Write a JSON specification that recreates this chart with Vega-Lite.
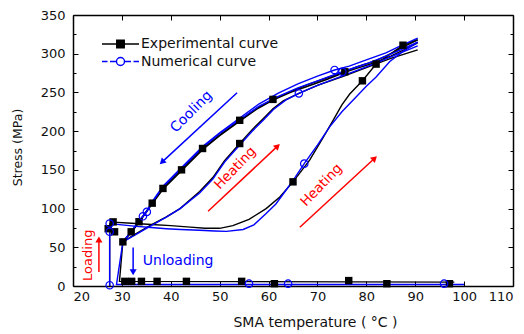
{
  "$schema": "https://vega.github.io/schema/vega-lite/v6.json",
  "width": 440,
  "height": 271,
  "autosize": {"type": "none"},
  "padding": {"left": 73, "top": 15, "right": 11, "bottom": 48},
  "background": "white",
  "config": {"view": {"stroke": null}, "font": "DejaVu Sans"},
  "datasets": {
    "lines": [
      {"curve": "Experimental curve", "branch": "e_load", "i": 0, "x": 27.5, "y": 0},
      {"curve": "Experimental curve", "branch": "e_load", "i": 1, "x": 27.5, "y": 74},
      {"curve": "Experimental curve", "branch": "e_load", "i": 2, "x": 28.2, "y": 82.5},
      {"curve": "Experimental curve", "branch": "e_heat1", "i": 0, "x": 28.2, "y": 82.5},
      {"curve": "Experimental curve", "branch": "e_heat1", "i": 1, "x": 32, "y": 81},
      {"curve": "Experimental curve", "branch": "e_heat1", "i": 2, "x": 36, "y": 79.5},
      {"curve": "Experimental curve", "branch": "e_heat1", "i": 3, "x": 40, "y": 78},
      {"curve": "Experimental curve", "branch": "e_heat1", "i": 4, "x": 44, "y": 76},
      {"curve": "Experimental curve", "branch": "e_heat1", "i": 5, "x": 47, "y": 74.5},
      {"curve": "Experimental curve", "branch": "e_heat1", "i": 6, "x": 50, "y": 74.5},
      {"curve": "Experimental curve", "branch": "e_heat1", "i": 7, "x": 52.7, "y": 78},
      {"curve": "Experimental curve", "branch": "e_heat1", "i": 8, "x": 56, "y": 86},
      {"curve": "Experimental curve", "branch": "e_heat1", "i": 9, "x": 59.5, "y": 100},
      {"curve": "Experimental curve", "branch": "e_heat1", "i": 10, "x": 62.3, "y": 115},
      {"curve": "Experimental curve", "branch": "e_heat1", "i": 11, "x": 65, "y": 134.5},
      {"curve": "Experimental curve", "branch": "e_heat1", "i": 12, "x": 68.4, "y": 162.5},
      {"curve": "Experimental curve", "branch": "e_heat1", "i": 13, "x": 71, "y": 190},
      {"curve": "Experimental curve", "branch": "e_heat1", "i": 14, "x": 73.2, "y": 214},
      {"curve": "Experimental curve", "branch": "e_heat1", "i": 15, "x": 75, "y": 234},
      {"curve": "Experimental curve", "branch": "e_heat1", "i": 16, "x": 76.6, "y": 248},
      {"curve": "Experimental curve", "branch": "e_heat1", "i": 17, "x": 79.2, "y": 265},
      {"curve": "Experimental curve", "branch": "e_heat1", "i": 18, "x": 82, "y": 286.6},
      {"curve": "Experimental curve", "branch": "e_heat1", "i": 19, "x": 85, "y": 300},
      {"curve": "Experimental curve", "branch": "e_heat1", "i": 20, "x": 87.5, "y": 311},
      {"curve": "Experimental curve", "branch": "e_heat1", "i": 21, "x": 90.5, "y": 318},
      {"curve": "Experimental curve", "branch": "e_cool1", "i": 0, "x": 90.5, "y": 318},
      {"curve": "Experimental curve", "branch": "e_cool1", "i": 1, "x": 88, "y": 310},
      {"curve": "Experimental curve", "branch": "e_cool1", "i": 2, "x": 85, "y": 300},
      {"curve": "Experimental curve", "branch": "e_cool1", "i": 3, "x": 82, "y": 291},
      {"curve": "Experimental curve", "branch": "e_cool1", "i": 4, "x": 78, "y": 283},
      {"curve": "Experimental curve", "branch": "e_cool1", "i": 5, "x": 75.6, "y": 276.7},
      {"curve": "Experimental curve", "branch": "e_cool1", "i": 6, "x": 72, "y": 269},
      {"curve": "Experimental curve", "branch": "e_cool1", "i": 7, "x": 68, "y": 260},
      {"curve": "Experimental curve", "branch": "e_cool1", "i": 8, "x": 64.5, "y": 251},
      {"curve": "Experimental curve", "branch": "e_cool1", "i": 9, "x": 60.9, "y": 241},
      {"curve": "Experimental curve", "branch": "e_cool1", "i": 10, "x": 57.5, "y": 229},
      {"curve": "Experimental curve", "branch": "e_cool1", "i": 11, "x": 54.1, "y": 214},
      {"curve": "Experimental curve", "branch": "e_cool1", "i": 12, "x": 50, "y": 195},
      {"curve": "Experimental curve", "branch": "e_cool1", "i": 13, "x": 46.5, "y": 177.6},
      {"curve": "Experimental curve", "branch": "e_cool1", "i": 14, "x": 44, "y": 162},
      {"curve": "Experimental curve", "branch": "e_cool1", "i": 15, "x": 42.2, "y": 150},
      {"curve": "Experimental curve", "branch": "e_cool1", "i": 16, "x": 40, "y": 137},
      {"curve": "Experimental curve", "branch": "e_cool1", "i": 17, "x": 38.4, "y": 126},
      {"curve": "Experimental curve", "branch": "e_cool1", "i": 18, "x": 36.2, "y": 107},
      {"curve": "Experimental curve", "branch": "e_cool1", "i": 19, "x": 34.5, "y": 92},
      {"curve": "Experimental curve", "branch": "e_cool1", "i": 20, "x": 33.5, "y": 83},
      {"curve": "Experimental curve", "branch": "e_cool1", "i": 21, "x": 31.9, "y": 70},
      {"curve": "Experimental curve", "branch": "e_cool1", "i": 22, "x": 30.2, "y": 57},
      {"curve": "Experimental curve", "branch": "e_heat2", "i": 0, "x": 30.2, "y": 57},
      {"curve": "Experimental curve", "branch": "e_heat2", "i": 1, "x": 33, "y": 68},
      {"curve": "Experimental curve", "branch": "e_heat2", "i": 2, "x": 36, "y": 79},
      {"curve": "Experimental curve", "branch": "e_heat2", "i": 3, "x": 39, "y": 89},
      {"curve": "Experimental curve", "branch": "e_heat2", "i": 4, "x": 41.9, "y": 100},
      {"curve": "Experimental curve", "branch": "e_heat2", "i": 5, "x": 45.9, "y": 122},
      {"curve": "Experimental curve", "branch": "e_heat2", "i": 6, "x": 48.6, "y": 140},
      {"curve": "Experimental curve", "branch": "e_heat2", "i": 7, "x": 51, "y": 162},
      {"curve": "Experimental curve", "branch": "e_heat2", "i": 8, "x": 54.1, "y": 184},
      {"curve": "Experimental curve", "branch": "e_heat2", "i": 9, "x": 56.5, "y": 201},
      {"curve": "Experimental curve", "branch": "e_heat2", "i": 10, "x": 58.9, "y": 216},
      {"curve": "Experimental curve", "branch": "e_heat2", "i": 11, "x": 60.9, "y": 229},
      {"curve": "Experimental curve", "branch": "e_heat2", "i": 12, "x": 63, "y": 239},
      {"curve": "Experimental curve", "branch": "e_heat2", "i": 13, "x": 66.2, "y": 248.8},
      {"curve": "Experimental curve", "branch": "e_heat2", "i": 14, "x": 70, "y": 259},
      {"curve": "Experimental curve", "branch": "e_heat2", "i": 15, "x": 75, "y": 270},
      {"curve": "Experimental curve", "branch": "e_heat2", "i": 16, "x": 80, "y": 282},
      {"curve": "Experimental curve", "branch": "e_heat2", "i": 17, "x": 85, "y": 294},
      {"curve": "Experimental curve", "branch": "e_heat2", "i": 18, "x": 90.5, "y": 305},
      {"curve": "Experimental curve", "branch": "e_cool2", "i": 0, "x": 90.5, "y": 314},
      {"curve": "Experimental curve", "branch": "e_cool2", "i": 1, "x": 88, "y": 306},
      {"curve": "Experimental curve", "branch": "e_cool2", "i": 2, "x": 85, "y": 297},
      {"curve": "Experimental curve", "branch": "e_cool2", "i": 3, "x": 82, "y": 289},
      {"curve": "Experimental curve", "branch": "e_cool2", "i": 4, "x": 78, "y": 281},
      {"curve": "Experimental curve", "branch": "e_cool2", "i": 5, "x": 75.6, "y": 276},
      {"curve": "Experimental curve", "branch": "e_cool2", "i": 6, "x": 72, "y": 267},
      {"curve": "Experimental curve", "branch": "e_cool2", "i": 7, "x": 68, "y": 258},
      {"curve": "Experimental curve", "branch": "e_cool2", "i": 8, "x": 64.5, "y": 250},
      {"curve": "Experimental curve", "branch": "e_cool2", "i": 9, "x": 60.9, "y": 240},
      {"curve": "Experimental curve", "branch": "e_cool2", "i": 10, "x": 57.5, "y": 228},
      {"curve": "Experimental curve", "branch": "e_cool2", "i": 11, "x": 54.1, "y": 213},
      {"curve": "Experimental curve", "branch": "e_cool2", "i": 12, "x": 50, "y": 194},
      {"curve": "Experimental curve", "branch": "e_cool2", "i": 13, "x": 46.5, "y": 176},
      {"curve": "Experimental curve", "branch": "e_cool2", "i": 14, "x": 42.2, "y": 149},
      {"curve": "Experimental curve", "branch": "e_cool2", "i": 15, "x": 38.4, "y": 125},
      {"curve": "Experimental curve", "branch": "e_cool2", "i": 16, "x": 36.2, "y": 106},
      {"curve": "Experimental curve", "branch": "e_cool2", "i": 17, "x": 33.5, "y": 82},
      {"curve": "Experimental curve", "branch": "e_cool2", "i": 18, "x": 31.9, "y": 69},
      {"curve": "Experimental curve", "branch": "e_cool2", "i": 19, "x": 30.2, "y": 57},
      {"curve": "Experimental curve", "branch": "e_unload", "i": 0, "x": 30.2, "y": 57},
      {"curve": "Experimental curve", "branch": "e_unload", "i": 1, "x": 29.5, "y": 6},
      {"curve": "Experimental curve", "branch": "e_unload", "i": 2, "x": 98, "y": 5},
      {"curve": "Numerical curve", "branch": "n_load", "i": 0, "x": 27.5, "y": 0},
      {"curve": "Numerical curve", "branch": "n_load", "i": 1, "x": 27.5, "y": 70},
      {"curve": "Numerical curve", "branch": "n_load", "i": 2, "x": 27.5, "y": 80.7},
      {"curve": "Numerical curve", "branch": "n_heat1", "i": 0, "x": 27.5, "y": 80.7},
      {"curve": "Numerical curve", "branch": "n_heat1", "i": 1, "x": 30, "y": 79},
      {"curve": "Numerical curve", "branch": "n_heat1", "i": 2, "x": 33, "y": 77},
      {"curve": "Numerical curve", "branch": "n_heat1", "i": 3, "x": 36, "y": 75.5},
      {"curve": "Numerical curve", "branch": "n_heat1", "i": 4, "x": 39.1, "y": 74},
      {"curve": "Numerical curve", "branch": "n_heat1", "i": 5, "x": 42, "y": 73},
      {"curve": "Numerical curve", "branch": "n_heat1", "i": 6, "x": 45.9, "y": 72},
      {"curve": "Numerical curve", "branch": "n_heat1", "i": 7, "x": 49, "y": 71},
      {"curve": "Numerical curve", "branch": "n_heat1", "i": 8, "x": 51.4, "y": 70.5},
      {"curve": "Numerical curve", "branch": "n_heat1", "i": 9, "x": 54.8, "y": 73},
      {"curve": "Numerical curve", "branch": "n_heat1", "i": 10, "x": 57, "y": 79},
      {"curve": "Numerical curve", "branch": "n_heat1", "i": 11, "x": 59.5, "y": 93.6},
      {"curve": "Numerical curve", "branch": "n_heat1", "i": 12, "x": 61.5, "y": 106},
      {"curve": "Numerical curve", "branch": "n_heat1", "i": 13, "x": 63.6, "y": 124},
      {"curve": "Numerical curve", "branch": "n_heat1", "i": 14, "x": 65.5, "y": 141},
      {"curve": "Numerical curve", "branch": "n_heat1", "i": 15, "x": 67.3, "y": 158},
      {"curve": "Numerical curve", "branch": "n_heat1", "i": 16, "x": 70, "y": 182},
      {"curve": "Numerical curve", "branch": "n_heat1", "i": 17, "x": 72.5, "y": 205.6},
      {"curve": "Numerical curve", "branch": "n_heat1", "i": 18, "x": 75, "y": 225},
      {"curve": "Numerical curve", "branch": "n_heat1", "i": 19, "x": 77.9, "y": 244},
      {"curve": "Numerical curve", "branch": "n_heat1", "i": 20, "x": 80, "y": 258},
      {"curve": "Numerical curve", "branch": "n_heat1", "i": 21, "x": 82, "y": 270},
      {"curve": "Numerical curve", "branch": "n_heat1", "i": 22, "x": 84.8, "y": 290},
      {"curve": "Numerical curve", "branch": "n_heat1", "i": 23, "x": 87.5, "y": 303},
      {"curve": "Numerical curve", "branch": "n_heat1", "i": 24, "x": 90.5, "y": 315},
      {"curve": "Numerical curve", "branch": "n_cool1", "i": 0, "x": 90.5, "y": 320},
      {"curve": "Numerical curve", "branch": "n_cool1", "i": 1, "x": 87, "y": 310},
      {"curve": "Numerical curve", "branch": "n_cool1", "i": 2, "x": 84, "y": 301},
      {"curve": "Numerical curve", "branch": "n_cool1", "i": 3, "x": 80, "y": 292},
      {"curve": "Numerical curve", "branch": "n_cool1", "i": 4, "x": 76.5, "y": 284},
      {"curve": "Numerical curve", "branch": "n_cool1", "i": 5, "x": 73.5, "y": 279},
      {"curve": "Numerical curve", "branch": "n_cool1", "i": 6, "x": 70, "y": 271},
      {"curve": "Numerical curve", "branch": "n_cool1", "i": 7, "x": 66, "y": 261},
      {"curve": "Numerical curve", "branch": "n_cool1", "i": 8, "x": 62, "y": 249},
      {"curve": "Numerical curve", "branch": "n_cool1", "i": 9, "x": 58, "y": 235},
      {"curve": "Numerical curve", "branch": "n_cool1", "i": 10, "x": 54.1, "y": 217},
      {"curve": "Numerical curve", "branch": "n_cool1", "i": 11, "x": 50, "y": 198},
      {"curve": "Numerical curve", "branch": "n_cool1", "i": 12, "x": 46.5, "y": 180},
      {"curve": "Numerical curve", "branch": "n_cool1", "i": 13, "x": 42.2, "y": 153},
      {"curve": "Numerical curve", "branch": "n_cool1", "i": 14, "x": 38.4, "y": 129},
      {"curve": "Numerical curve", "branch": "n_cool1", "i": 15, "x": 36.2, "y": 109},
      {"curve": "Numerical curve", "branch": "n_cool1", "i": 16, "x": 35.1, "y": 97},
      {"curve": "Numerical curve", "branch": "n_cool1", "i": 17, "x": 34.3, "y": 90},
      {"curve": "Numerical curve", "branch": "n_cool1", "i": 18, "x": 33.5, "y": 84},
      {"curve": "Numerical curve", "branch": "n_cool1", "i": 19, "x": 31.9, "y": 70},
      {"curve": "Numerical curve", "branch": "n_cool1", "i": 20, "x": 30.2, "y": 57},
      {"curve": "Numerical curve", "branch": "n_heat2", "i": 0, "x": 30.2, "y": 57},
      {"curve": "Numerical curve", "branch": "n_heat2", "i": 1, "x": 33, "y": 67},
      {"curve": "Numerical curve", "branch": "n_heat2", "i": 2, "x": 36, "y": 78},
      {"curve": "Numerical curve", "branch": "n_heat2", "i": 3, "x": 39.1, "y": 89},
      {"curve": "Numerical curve", "branch": "n_heat2", "i": 4, "x": 41.9, "y": 100},
      {"curve": "Numerical curve", "branch": "n_heat2", "i": 5, "x": 45.9, "y": 120},
      {"curve": "Numerical curve", "branch": "n_heat2", "i": 6, "x": 48.6, "y": 138},
      {"curve": "Numerical curve", "branch": "n_heat2", "i": 7, "x": 51, "y": 160},
      {"curve": "Numerical curve", "branch": "n_heat2", "i": 8, "x": 54.1, "y": 182},
      {"curve": "Numerical curve", "branch": "n_heat2", "i": 9, "x": 56.5, "y": 199},
      {"curve": "Numerical curve", "branch": "n_heat2", "i": 10, "x": 58.9, "y": 214},
      {"curve": "Numerical curve", "branch": "n_heat2", "i": 11, "x": 61, "y": 228},
      {"curve": "Numerical curve", "branch": "n_heat2", "i": 12, "x": 63.5, "y": 240},
      {"curve": "Numerical curve", "branch": "n_heat2", "i": 13, "x": 66.2, "y": 248.8},
      {"curve": "Numerical curve", "branch": "n_heat2", "i": 14, "x": 70, "y": 259},
      {"curve": "Numerical curve", "branch": "n_heat2", "i": 15, "x": 75, "y": 271},
      {"curve": "Numerical curve", "branch": "n_heat2", "i": 16, "x": 80, "y": 283},
      {"curve": "Numerical curve", "branch": "n_heat2", "i": 17, "x": 85, "y": 296},
      {"curve": "Numerical curve", "branch": "n_heat2", "i": 18, "x": 90.5, "y": 310},
      {"curve": "Numerical curve", "branch": "n_cool2", "i": 0, "x": 90.5, "y": 315},
      {"curve": "Numerical curve", "branch": "n_cool2", "i": 1, "x": 87, "y": 305},
      {"curve": "Numerical curve", "branch": "n_cool2", "i": 2, "x": 84, "y": 297},
      {"curve": "Numerical curve", "branch": "n_cool2", "i": 3, "x": 80, "y": 287},
      {"curve": "Numerical curve", "branch": "n_cool2", "i": 4, "x": 75.1, "y": 276.7},
      {"curve": "Numerical curve", "branch": "n_cool2", "i": 5, "x": 70, "y": 265},
      {"curve": "Numerical curve", "branch": "n_cool2", "i": 6, "x": 66, "y": 256},
      {"curve": "Numerical curve", "branch": "n_cool2", "i": 7, "x": 62, "y": 245},
      {"curve": "Numerical curve", "branch": "n_cool2", "i": 8, "x": 58, "y": 232},
      {"curve": "Numerical curve", "branch": "n_cool2", "i": 9, "x": 54.1, "y": 215},
      {"curve": "Numerical curve", "branch": "n_cool2", "i": 10, "x": 50, "y": 197},
      {"curve": "Numerical curve", "branch": "n_cool2", "i": 11, "x": 46.5, "y": 179},
      {"curve": "Numerical curve", "branch": "n_cool2", "i": 12, "x": 42.2, "y": 152},
      {"curve": "Numerical curve", "branch": "n_cool2", "i": 13, "x": 38.4, "y": 128},
      {"curve": "Numerical curve", "branch": "n_cool2", "i": 14, "x": 36.2, "y": 108},
      {"curve": "Numerical curve", "branch": "n_cool2", "i": 15, "x": 35.1, "y": 96},
      {"curve": "Numerical curve", "branch": "n_cool2", "i": 16, "x": 34.3, "y": 90},
      {"curve": "Numerical curve", "branch": "n_cool2", "i": 17, "x": 33.5, "y": 84},
      {"curve": "Numerical curve", "branch": "n_cool2", "i": 18, "x": 31.9, "y": 70},
      {"curve": "Numerical curve", "branch": "n_cool2", "i": 19, "x": 30.2, "y": 57},
      {"curve": "Numerical curve", "branch": "n_unload", "i": 0, "x": 30.2, "y": 57},
      {"curve": "Numerical curve", "branch": "n_unload", "i": 1, "x": 28.9, "y": 2},
      {"curve": "Numerical curve", "branch": "n_unload", "i": 2, "x": 100, "y": 2}
    ],
    "markers": [
      {"curve": "Experimental curve", "x": 27.2, "y": 74},
      {"curve": "Experimental curve", "x": 28.5, "y": 70},
      {"curve": "Experimental curve", "x": 28.2, "y": 82.8},
      {"curve": "Experimental curve", "x": 30.2, "y": 57},
      {"curve": "Experimental curve", "x": 31.9, "y": 70},
      {"curve": "Experimental curve", "x": 33.5, "y": 83},
      {"curve": "Experimental curve", "x": 36.2, "y": 107},
      {"curve": "Experimental curve", "x": 38.4, "y": 126},
      {"curve": "Experimental curve", "x": 42.2, "y": 150},
      {"curve": "Experimental curve", "x": 46.5, "y": 177.6},
      {"curve": "Experimental curve", "x": 54.1, "y": 214},
      {"curve": "Experimental curve", "x": 54.1, "y": 184},
      {"curve": "Experimental curve", "x": 60.9, "y": 241},
      {"curve": "Experimental curve", "x": 65, "y": 134.5},
      {"curve": "Experimental curve", "x": 75.6, "y": 276.7},
      {"curve": "Experimental curve", "x": 79.2, "y": 265},
      {"curve": "Experimental curve", "x": 82, "y": 286.6},
      {"curve": "Experimental curve", "x": 87.5, "y": 311},
      {"curve": "Experimental curve", "x": 30.6, "y": 6},
      {"curve": "Experimental curve", "x": 32, "y": 6},
      {"curve": "Experimental curve", "x": 34, "y": 6},
      {"curve": "Experimental curve", "x": 37.2, "y": 6},
      {"curve": "Experimental curve", "x": 43.2, "y": 6},
      {"curve": "Experimental curve", "x": 54.5, "y": 6},
      {"curve": "Experimental curve", "x": 61.2, "y": 3},
      {"curve": "Experimental curve", "x": 76.4, "y": 7},
      {"curve": "Experimental curve", "x": 84.2, "y": 3},
      {"curve": "Experimental curve", "x": 97, "y": 3},
      {"curve": "Numerical curve", "x": 27.5, "y": 80.7},
      {"curve": "Numerical curve", "x": 27.5, "y": 70},
      {"curve": "Numerical curve", "x": 27.5, "y": 1},
      {"curve": "Numerical curve", "x": 34.3, "y": 90},
      {"curve": "Numerical curve", "x": 35.1, "y": 95.7},
      {"curve": "Numerical curve", "x": 67.3, "y": 158},
      {"curve": "Numerical curve", "x": 66.2, "y": 248.8},
      {"curve": "Numerical curve", "x": 73.5, "y": 279},
      {"curve": "Numerical curve", "x": 75.1, "y": 276.7},
      {"curve": "Numerical curve", "x": 56, "y": 3},
      {"curve": "Numerical curve", "x": 64, "y": 3},
      {"curve": "Numerical curve", "x": 95.9, "y": 3}
    ],
    "arrows": [
      {"name": "Cooling", "x": 53.56, "y": 249.5, "x2": 38.2, "y2": 160},
      {"name": "Heating1", "x": 47.63, "y": 96.6, "x2": 61.85, "y2": 180.6},
      {"name": "Heating2", "x": 66.4, "y": 75.9, "x2": 81.7, "y2": 165},
      {"name": "Loading", "x": 25.3, "y": 18, "x2": 25.3, "y2": 60},
      {"name": "Unloading", "x": 32.3, "y": 49.7, "x2": 32.3, "y2": 17.8}
    ],
    "labels": [
      {"name": "Cooling", "text": "Cooling", "x": 44.23, "y": 225},
      {"name": "Heating1", "text": "Heating", "x": 53.2, "y": 152.2},
      {"name": "Heating2", "text": "Heating", "x": 70.84, "y": 130.2},
      {"name": "Loading", "text": "Loading", "x": 23.07, "y": 39.7},
      {"name": "Unloading", "text": "Unloading", "x": 41.5, "y": 32}
    ]
  },
  "resolve": {"axis": {"x": "independent", "y": "independent"}},
  "layer": [
    {
      "data": {"name": "lines"},
      "mark": {"type": "line", "strokeWidth": 1.4},
      "encoding": {
        "x": {
          "field": "x", "type": "quantitative",
          "scale": {"domain": [20, 110], "nice": false, "zero": false},
          "axis": {
            "orient": "bottom", "values": [20, 30, 40, 50, 60, 70, 80, 90, 100, 110],
            "grid": false, "tickSize": -5, "tickColor": "black", "labelPadding": 9,
            "labelFontSize": 13, "labelColor": "#111", "labelFont": "DejaVu Sans",
            "domainColor": "black", "domainWidth": 1.5,
            "title": "SMA temperature ( °C )", "titleFontSize": 14, "titleFontWeight": "normal",
            "titleColor": "#111", "titleFont": "DejaVu Sans",
            "titleX": 242, "titleY": 36, "titleBaseline": "middle", "titleAlign": "center"
          }
        },
        "y": {
          "field": "y", "type": "quantitative",
          "scale": {"domain": [0, 350], "nice": false},
          "axis": {
            "orient": "left", "values": [0, 25, 50, 75, 100, 125, 150, 175, 200, 225, 250, 275, 300, 325, 350],
            "labelExpr": "datum.value % 50 === 0 ? datum.label : ''",
            "grid": false, "tickSize": {"condition": {"test": "datum.value % 50 !== 0", "value": -3}, "value": -5},
            "tickColor": "black", "labelPadding": 13,
            "labelFontSize": 13, "labelColor": "#111", "labelFont": "DejaVu Sans",
            "domainColor": "black", "domainWidth": 1.5,
            "title": "Stress (MPa)", "titleFontSize": 12.5, "titleFontWeight": "normal",
            "titleColor": "#111", "titleFont": "DejaVu Sans",
            "titleX": -56, "titleY": 132, "titleBaseline": "middle", "titleAlign": "center", "titleAngle": -90
          }
        },
        "color": {
          "field": "curve", "type": "nominal",
          "scale": {"domain": ["Experimental curve", "Numerical curve"], "range": ["#000000", "#0000ff"]},
          "legend": {
            "title": null, "orient": "none", "legendX": 27, "legendY": 22,
            "symbolSize": 100, "symbolStrokeWidth": 1.4,
            "labelFontSize": 14, "labelFont": "DejaVu Sans", "labelColor": "#111",
            "labelOffset": 27, "rowPadding": 3.5, "padding": 0,
            "encode": {
              "symbols": {
                "update": {
                  "shape": {"signal": "datum.value === 'Experimental curve' ? 'M-1,0H6.4M1.95,-0.75H3.45V0.75H1.95Z' : 'M-1,0H0.1M0.6,0H1.9M3.5,0H4.8M5.3,0H6.4M3.5,0A0.8,0.8 0 1,1 1.9,0A0.8,0.8 0 1,1 3.5,0Z'"},
                  "fill": {"signal": "datum.value === 'Experimental curve' ? '#000000' : 'transparent'"}
                }
              }
            }
          }
        },
        "detail": {"field": "branch"},
        "order": {"field": "i", "type": "quantitative"}
      }
    },
    {
      "data": {"name": "markers"},
      "transform": [{"filter": "datum.curve === 'Experimental curve'"}],
      "mark": {"type": "point", "shape": "square", "filled": true, "color": "#000000", "size": 55, "opacity": 1},
      "encoding": {
        "x": {
          "field": "x", "type": "quantitative",
          "axis": {"orient": "top", "values": [20, 30, 40, 50, 60, 70, 80, 90, 100, 110], "labels": false, "title": null,
            "grid": false, "tickSize": -5, "tickColor": "black", "domainColor": "black", "domainWidth": 1.5}
        },
        "y": {
          "field": "y", "type": "quantitative",
          "axis": {"orient": "right", "values": [0, 25, 50, 75, 100, 125, 150, 175, 200, 225, 250, 275, 300, 325, 350],
            "labels": false, "title": null, "grid": false,
            "tickSize": {"condition": {"test": "datum.value % 50 !== 0", "value": -3}, "value": -5},
            "tickColor": "black", "domainColor": "black", "domainWidth": 1.5}
        }
      }
    },
    {
      "data": {"name": "markers"},
      "transform": [{"filter": "datum.curve === 'Numerical curve'"}],
      "mark": {"type": "point", "shape": "circle", "filled": false, "color": "#0000ff", "size": 55, "strokeWidth": 1.2, "opacity": 1},
      "encoding": {
        "x": {"field": "x", "type": "quantitative", "axis": null},
        "y": {"field": "y", "type": "quantitative", "axis": null}
      }
    },
    {
      "data": {"name": "arrows"},
      "transform": [{"filter": "datum.name === 'Cooling' || datum.name === 'Unloading'"}],
      "mark": {"type": "rule", "color": "#0000ff", "strokeWidth": 1.5},
      "encoding": {
        "x": {"field": "x", "type": "quantitative", "axis": null},
        "y": {"field": "y", "type": "quantitative", "axis": null},
        "x2": {"field": "x2"},
        "y2": {"field": "y2"}
      }
    },
    {
      "data": {"name": "arrows"},
      "transform": [{"filter": "datum.name !== 'Cooling' && datum.name !== 'Unloading'"}],
      "mark": {"type": "rule", "color": "#ff0000", "strokeWidth": 1.5},
      "encoding": {
        "x": {"field": "x", "type": "quantitative", "axis": null},
        "y": {"field": "y", "type": "quantitative", "axis": null},
        "x2": {"field": "x2"},
        "y2": {"field": "y2"}
      }
    },
    {
      "data": {"name": "arrows"},
      "transform": [{"filter": "datum.name === 'Cooling'"}],
      "mark": {"type": "point", "shape": "triangle-up", "filled": true, "color": "#0000ff", "size": 50, "angle": 227, "opacity": 1},
      "encoding": {
        "x": {"field": "x2", "type": "quantitative", "axis": null},
        "y": {"field": "y2", "type": "quantitative", "axis": null}
      }
    },
    {
      "data": {"name": "arrows"},
      "transform": [{"filter": "datum.name === 'Unloading'"}],
      "mark": {"type": "point", "shape": "triangle-up", "filled": true, "color": "#0000ff", "size": 50, "angle": 180, "opacity": 1},
      "encoding": {
        "x": {"field": "x2", "type": "quantitative", "axis": null},
        "y": {"field": "y2", "type": "quantitative", "axis": null}
      }
    },
    {
      "data": {"name": "arrows"},
      "transform": [{"filter": "datum.name === 'Heating1' || datum.name === 'Heating2'"}],
      "mark": {"type": "point", "shape": "triangle-up", "filled": true, "color": "#ff0000", "size": 50, "angle": 47, "opacity": 1},
      "encoding": {
        "x": {"field": "x2", "type": "quantitative", "axis": null},
        "y": {"field": "y2", "type": "quantitative", "axis": null}
      }
    },
    {
      "data": {"name": "arrows"},
      "transform": [{"filter": "datum.name === 'Loading'"}],
      "mark": {"type": "point", "shape": "triangle-up", "filled": true, "color": "#ff0000", "size": 50, "angle": 0, "opacity": 1},
      "encoding": {
        "x": {"field": "x2", "type": "quantitative", "axis": null},
        "y": {"field": "y2", "type": "quantitative", "axis": null}
      }
    },
    {
      "data": {"name": "labels"},
      "transform": [{"filter": "datum.name === 'Cooling'"}],
      "mark": {"type": "text", "color": "#0000ff", "fontSize": 14, "font": "DejaVu Sans", "angle": -45, "align": "center", "baseline": "middle"},
      "encoding": {
        "x": {"field": "x", "type": "quantitative", "axis": null},
        "y": {"field": "y", "type": "quantitative", "axis": null},
        "text": {"field": "text"}
      }
    },
    {
      "data": {"name": "labels"},
      "transform": [{"filter": "datum.name === 'Heating1' || datum.name === 'Heating2'"}],
      "mark": {"type": "text", "color": "#ff0000", "fontSize": 13.5, "font": "DejaVu Sans", "angle": -46, "align": "center", "baseline": "middle"},
      "encoding": {
        "x": {"field": "x", "type": "quantitative", "axis": null},
        "y": {"field": "y", "type": "quantitative", "axis": null},
        "text": {"field": "text"}
      }
    },
    {
      "data": {"name": "labels"},
      "transform": [{"filter": "datum.name === 'Loading'"}],
      "mark": {"type": "text", "color": "#ff0000", "fontSize": 13, "font": "DejaVu Sans", "angle": -90, "align": "center", "baseline": "middle"},
      "encoding": {
        "x": {"field": "x", "type": "quantitative", "axis": null},
        "y": {"field": "y", "type": "quantitative", "axis": null},
        "text": {"field": "text"}
      }
    },
    {
      "data": {"name": "labels"},
      "transform": [{"filter": "datum.name === 'Unloading'"}],
      "mark": {"type": "text", "color": "#0000ff", "fontSize": 14, "font": "DejaVu Sans", "angle": 0, "align": "center", "baseline": "middle"},
      "encoding": {
        "x": {"field": "x", "type": "quantitative", "axis": null},
        "y": {"field": "y", "type": "quantitative", "axis": null},
        "text": {"field": "text"}
      }
    }
  ]
}
